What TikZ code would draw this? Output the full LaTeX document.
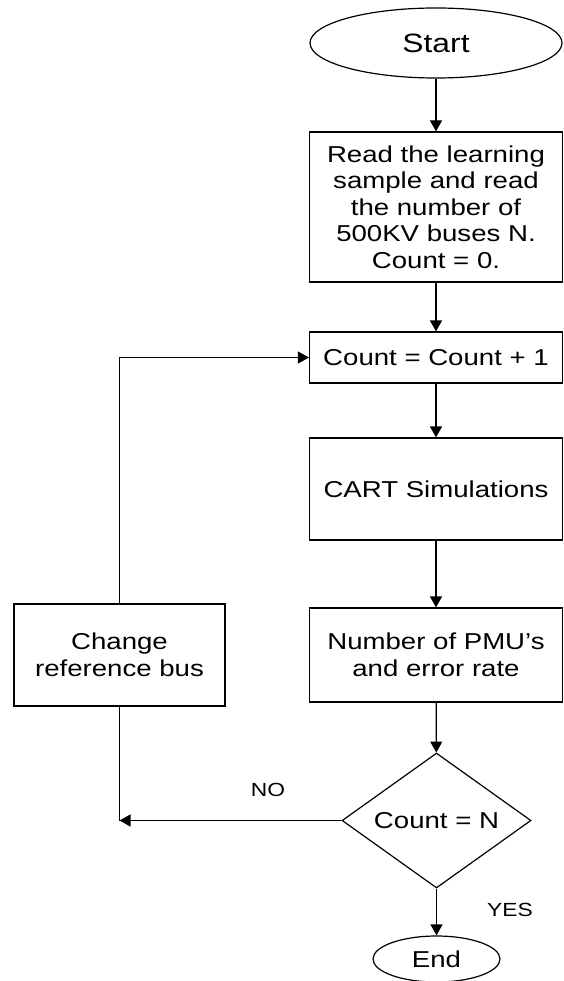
\documentclass[tikz,border=0pt]{standalone}
\usepackage{fontspec}
\setmainfont[FakeStretch=1.2]{Liberation Sans}
\usetikzlibrary{arrows.meta,positioning,shapes.geometric}

\begin{document}
\begin{tikzpicture}[x=1pt,y=-1pt,
  every node/.style={font=\fontsize{23}{26.5}\selectfont},
  box/.style={draw,line width=1.2pt,align=center,minimum width=253pt,inner sep=0pt},
  term/.style={draw,ellipse,line width=1.2pt,inner sep=0pt},
  flow/.style={line width=1.2pt,-{Triangle[width=12pt,length=11pt]}},
  lab/.style={font=\fontsize{19}{22}\selectfont}]
  \useasboundingbox (0,0) rectangle (563,981);
  \node[term,minimum width=252pt,minimum height=70pt,font=\fontsize{26.5}{30}\selectfont] (start) at (436,43) {Start};
  \foreach \nm/\y/\h/\lab in {
     read/207/150/{Read the learning\\sample and read\\the number of\\500KV buses N.\\Count = 0.},
     inc/357.5/51/{Count = Count + 1},
     cart/489/102/{CART Simulations},
     pmu/655/94/{Number of PMU's\\and error rate}}
  { \node[box,minimum height=\h pt] (\nm) at (436,\y) {\lab}; }
  \node[box,minimum width=211pt,minimum height=102pt] (chg) at (119.5,655) {Change\\reference bus};
  \node[draw,diamond,line width=1.2pt,inner sep=0pt,minimum width=189pt,minimum height=135pt,aspect=1.4] (test) at (436.5,820.5) {Count = N};
  \node[term,minimum width=127pt,minimum height=46pt] (end) at (436.5,959) {End};
  \coordinate (back) at (chg |- test);
  % main column
  \draw[flow] (start) -- (read);
  \draw[flow] (read) -- (inc);
  \draw[flow] (inc) -- (cart);
  \draw[flow] (cart) -- (pmu);
  \draw[flow] (pmu) -- (test);
  \draw[flow] (test) -- (end);
  % loop back
  \draw[flow] (test.west) -- (back);
  \draw[line width=1.2pt] (back) -- (chg.south);
  \draw[flow] (chg.north) |- (inc.west);
  \node[lab] (no) at (268,790) {NO};
  \node[lab] (yes) at (510,910) {YES};
\end{tikzpicture}
\end{document}
